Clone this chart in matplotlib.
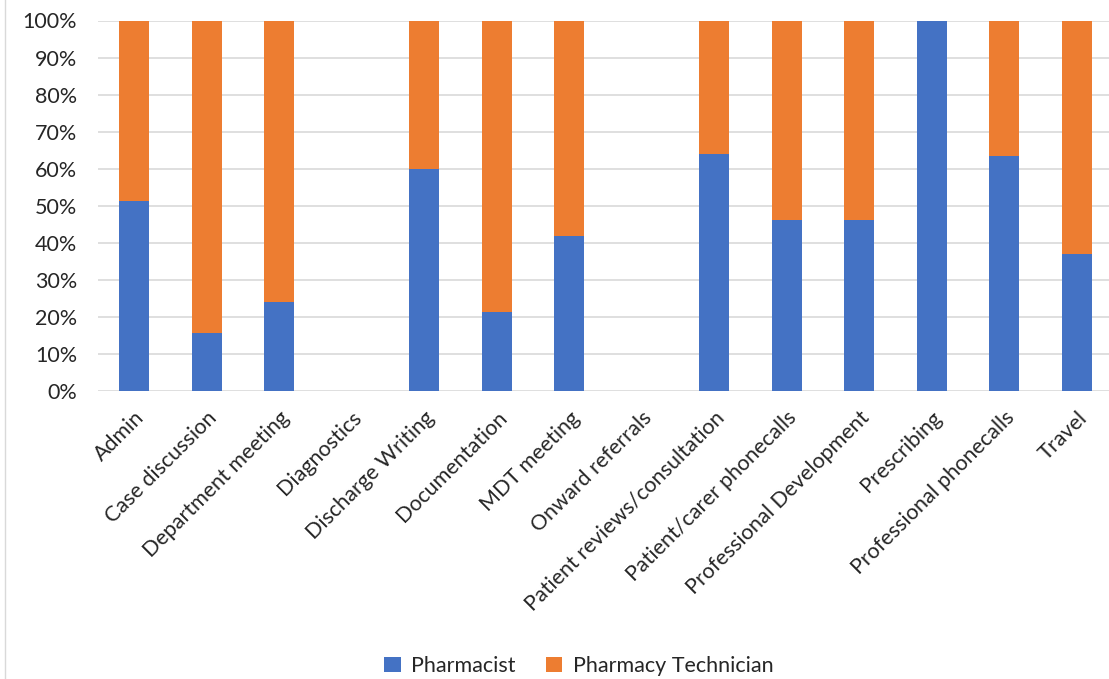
import matplotlib
matplotlib.use('Agg')
from matplotlib import pyplot as plt
from matplotlib.lines import Line2D
import numpy as np

categories = ['Admin', 'Case discussion', 'Department meeting', 'Diagnostics',
              'Discharge Writing', 'Documentation', 'MDT meeting', 'Onward referrals',
              'Patient reviews/consultation', 'Patient/carer phonecalls',
              'Professional Development', 'Prescribing', 'Professional phonecalls', 'Travel']
pharmacist = [51.2, 15.6, 24.1, 0, 59.8, 21.3, 41.9, 0, 63.9, 46.1, 46.1, 100, 63.3, 36.9]
technician = [48.8, 84.4, 75.9, 0, 40.2, 78.7, 58.1, 0, 36.1, 53.9, 53.9, 0, 36.7, 63.1]

plt.rcParams['font.family'] = ['Lato', 'DejaVu Sans']
txt = '#262626'

fig = plt.figure(figsize=(11.09, 6.79), dpi=100)
ax = fig.add_axes([98 / 1109, 1 - 391 / 679, 1015 / 1109, 370.5 / 679])

x = np.arange(len(categories))
w = 0.41
ax.bar(x, pharmacist, w, color='#4472C4', label='Pharmacist', zorder=3)
ax.bar(x, technician, w, bottom=pharmacist, color='#ED7D31',
       label='Pharmacy Technician', zorder=3)

ax.set_xlim(-0.5, len(categories) - 0.5)
ax.set_ylim(0, 100)
ax.set_yticks(np.arange(0, 101, 10))
ax.set_yticklabels([f'{v}%' for v in range(0, 101, 10)], fontsize=15.5, color=txt)
ax.set_xticks(x)
ax.set_xticklabels(categories, rotation=45, ha='right', rotation_mode='anchor',
                   fontsize=15.5, color=txt)
ax.tick_params(axis='x', length=0, pad=12)
ax.tick_params(axis='y', length=0, pad=15)
ax.grid(axis='y', color='#d9d9d9', linewidth=1.2, zorder=0)
for s in ax.spines.values():
    s.set_visible(False)

fig.legend(loc='center', bbox_to_anchor=(0.522, 1 - 666 / 679), ncol=2, frameon=False,
           fontsize=15.5, handlelength=0.75, handleheight=0.75, columnspacing=1.4,
           handletextpad=0.5, labelcolor=txt)

# thin chart border on the left
fig.add_artist(Line2D([5 / 1109, 5 / 1109], [0, 1], color='#d9d9d9', linewidth=1))

fig.savefig('out.png', dpi=100)
